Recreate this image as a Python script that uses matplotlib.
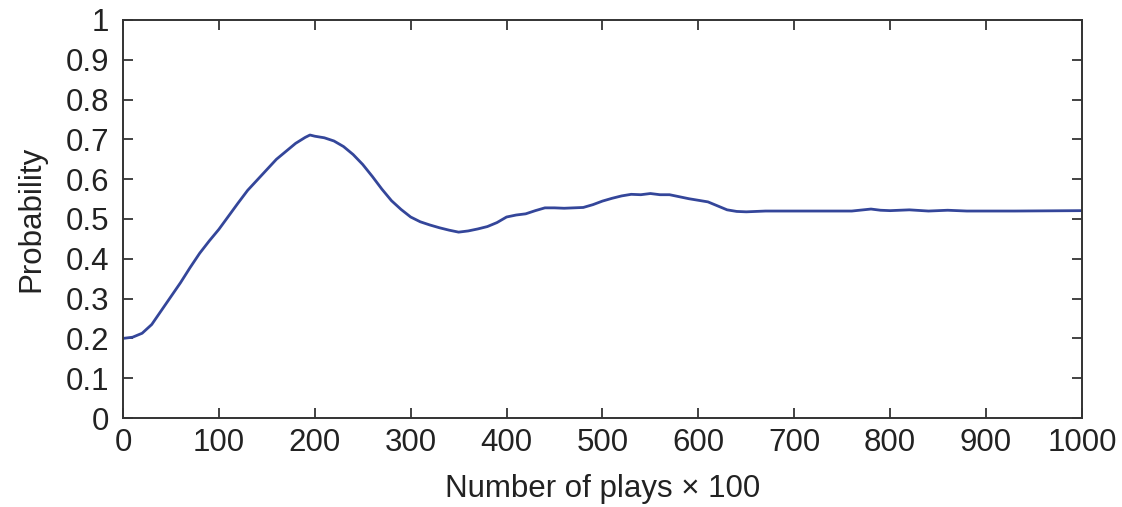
import matplotlib
matplotlib.use('agg')
import matplotlib.pyplot as plt
import numpy as np

# curve (plays in hundreds, probability)
plays = [0, 10, 20, 30, 40, 50, 60, 70, 80, 90,
         100, 110, 120, 130, 140, 150, 160, 170, 180, 190,
         195, 200, 210, 220, 230, 240, 250, 260, 270, 280,
         290, 300, 310, 320, 330, 340, 350, 360, 370, 380,
         390, 400, 410, 420, 430, 440, 450, 460, 470, 480,
         490, 500, 510, 520, 530, 540, 550, 560, 570, 580,
         590, 600, 610, 620, 630, 640, 650, 660, 670, 700,
         760, 780, 790, 800, 820, 840, 860, 880, 930, 1000]
prob = [0.200, 0.203, 0.213, 0.235, 0.270, 0.305, 0.340, 0.378, 0.414, 0.445,
        0.474, 0.507, 0.540, 0.572, 0.598, 0.624, 0.650, 0.670, 0.690, 0.705,
        0.711, 0.708, 0.704, 0.696, 0.682, 0.662, 0.637, 0.607, 0.575, 0.546,
        0.524, 0.505, 0.493, 0.485, 0.478, 0.472, 0.467, 0.470, 0.475, 0.481,
        0.491, 0.505, 0.510, 0.513, 0.521, 0.528, 0.528, 0.527, 0.528, 0.529,
        0.536, 0.545, 0.552, 0.558, 0.562, 0.561, 0.564, 0.561, 0.561, 0.556,
        0.551, 0.547, 0.543, 0.533, 0.523, 0.519, 0.518, 0.519, 0.520, 0.520,
        0.520, 0.525, 0.522, 0.521, 0.523, 0.520, 0.522, 0.520, 0.520, 0.521]

xticks = list(range(0, 1001, 100))
yticks = [0, 0.1, 0.2, 0.3, 0.4, 0.5, 0.6, 0.7, 0.8, 0.9, 1]
ytick_labels = ['0', '0.1', '0.2', '0.3', '0.4', '0.5', '0.6', '0.7', '0.8', '0.9', '1']

plt.rcParams['font.family'] = ['Liberation Sans', 'DejaVu Sans']

fig = plt.figure(figsize=(11.22, 5.07), dpi=100)
ax = fig.add_axes([0.1096, 0.1755, 0.8547, 0.7851])
ax.plot(plays, prob, color='#34469a', linewidth=2.0)

ax.set_xlim(0, 1000)
ax.set_ylim(0, 1)
ax.set_xticks(xticks)
ax.set_yticks(yticks)
ax.set_yticklabels(ytick_labels)
ax.tick_params(direction='in', length=7, width=1.2, top=True, right=True,
               labelsize=22.5, colors='#222222')
ax.tick_params(axis='y', pad=10)
ax.tick_params(axis='x', pad=7)
for s in ax.spines.values():
  s.set_linewidth(1.4)
  s.set_color('#333333')

ax.set_xlabel('Number of plays \u00d7 100', fontsize=22.5, color='#222222', labelpad=12)
ax.set_ylabel('Probability', fontsize=22.5, color='#222222', labelpad=14)

fig.savefig('out.png', dpi=100)
